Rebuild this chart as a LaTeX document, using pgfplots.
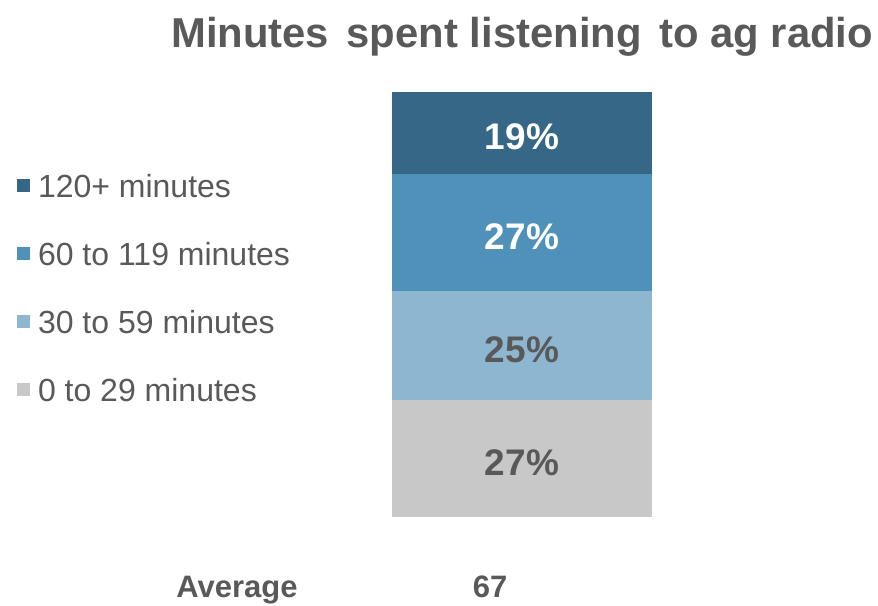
\documentclass[border=0pt]{standalone}
\usepackage{fontspec}
\setmainfont{Liberation Sans}
\usepackage{pgfplots}
\pgfplotsset{compat=1.18}
\definecolor{cA}{RGB}{54,103,135}
\definecolor{cB}{RGB}{80,145,185}
\definecolor{cC}{RGB}{141,182,208}
\definecolor{cD}{RGB}{200,200,200}
\definecolor{tg}{RGB}{89,89,89}
\begin{document}
\begin{tikzpicture}[x=1pt,y=1pt]
\path (0,0) rectangle (878,605);
\begin{axis}[
  at={(392pt,88pt)}, anchor=south west,
  scale only axis, width=260pt, height=425pt,
  hide axis, clip=false,
  ybar stacked, bar width=260pt,
  xmin=-0.5, xmax=0.5, ymin=0, ymax=98,
  legend style={at={(rel axis cs:-1.4423,0.8059)}, anchor=north west,
    draw=none, fill=none, inner sep=0pt, outer sep=0pt,
    row sep=45pt, column sep=8pt,
    font=\fontsize{32}{34}\selectfont, text=tg,
    nodes={inner sep=0pt, text height=23pt, text depth=0pt}},
  legend cell align=left, reverse legend,
]
\addplot[fill=cD, draw=none, legend image code/.code={\fill[cD] (0pt,-6.5pt) rectangle (13pt,6.5pt);}] coordinates {(0,27)};
\addlegendentry{0 to 29 minutes}
\addplot[fill=cC, draw=none, legend image code/.code={\fill[cC] (0pt,-6.5pt) rectangle (13pt,6.5pt);}] coordinates {(0,25)};
\addlegendentry{30 to 59 minutes}
\addplot[fill=cB, draw=none, legend image code/.code={\fill[cB] (0pt,-6.5pt) rectangle (13pt,6.5pt);}] coordinates {(0,27)};
\addlegendentry{60 to 119 minutes}
\addplot[fill=cA, draw=none, legend image code/.code={\fill[cA] (0pt,-6.5pt) rectangle (13pt,6.5pt);}] coordinates {(0,19)};
\addlegendentry{120+ minutes}
\coordinate (lD) at (axis cs:0,13.5);
\coordinate (lC) at (axis cs:0,39.5);
\coordinate (lB) at (axis cs:0,65.5);
\coordinate (lA) at (axis cs:0,88.5);
\end{axis}
\begin{scope}[every node/.style={font=\fontsize{37}{40}\selectfont\bfseries, yshift=-4pt}]
\node[text=tg] at (lD) {27\%};
\node[text=tg] at (lC) {25\%};
\node[text=white] at (lB) {27\%};
\node[text=white] at (lA) {19\%};
\end{scope}
\node[anchor=base west, text=tg, font=\fontsize{41.8}{44}\selectfont\bfseries, inner sep=0pt] at (171,557)
  {Minutes\hspace{6pt} spent listening\hspace{6pt} to ag radio};
\node[anchor=base, text=tg, font=\fontsize{31}{33}\selectfont\bfseries, inner sep=0pt] at (237,7) {Average};
\node[anchor=base, text=tg, font=\fontsize{31}{33}\selectfont\bfseries, inner sep=0pt] at (490,7) {67};
\end{tikzpicture}
\end{document}
